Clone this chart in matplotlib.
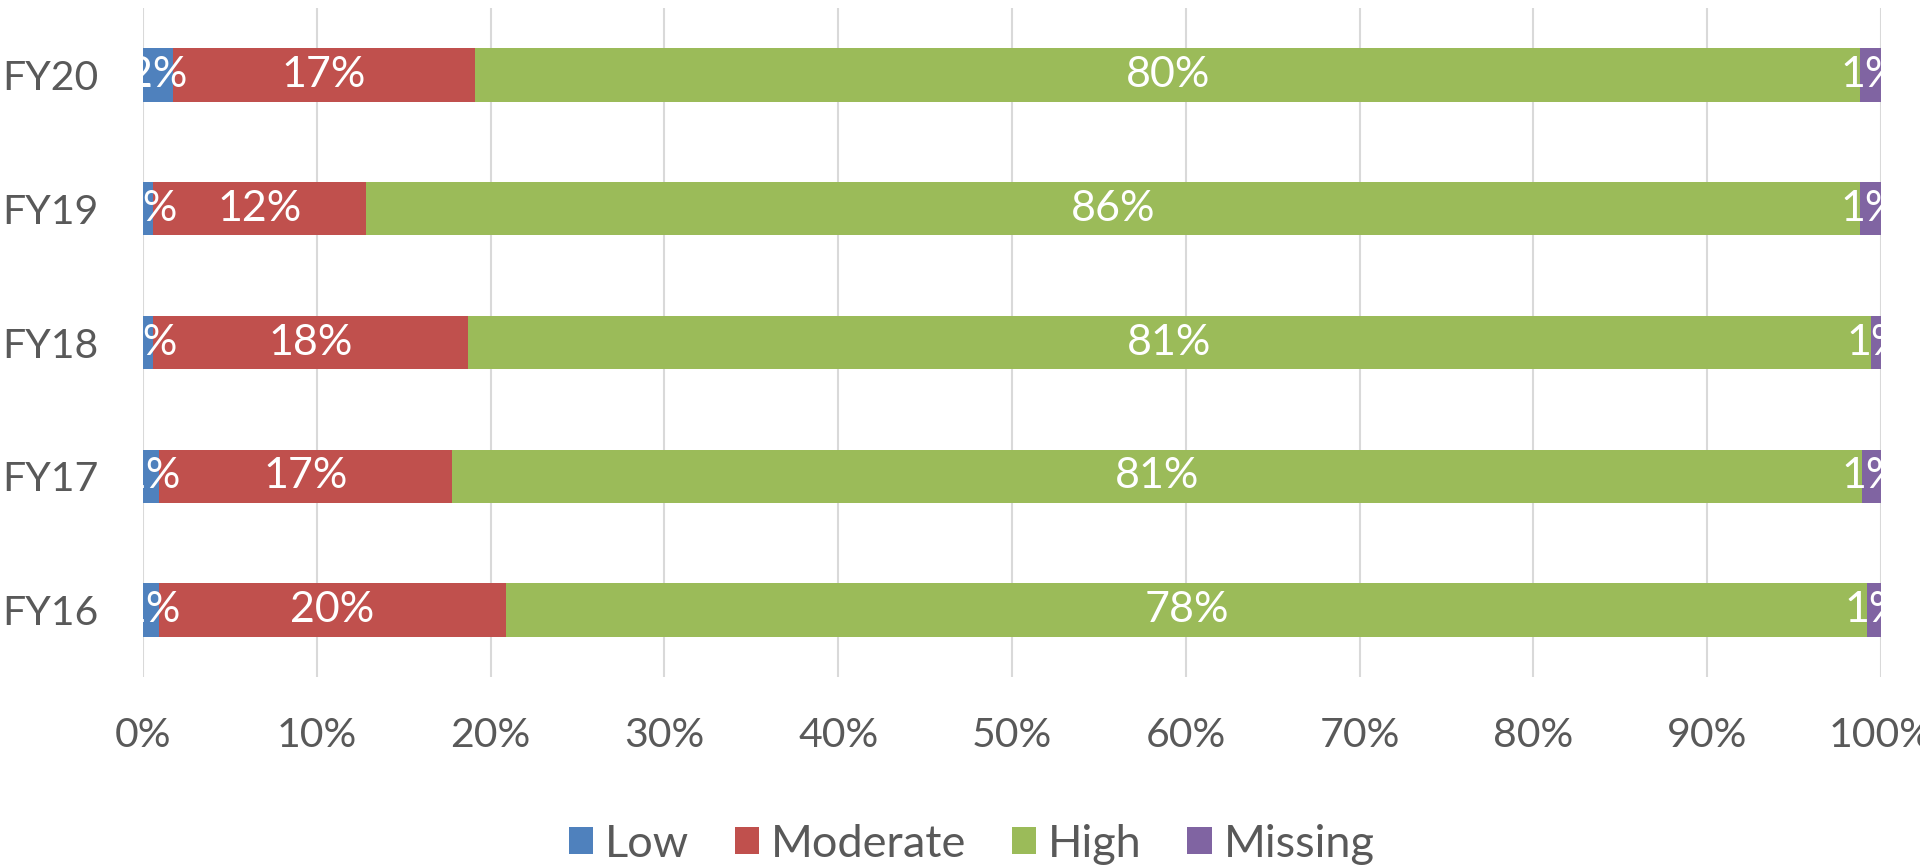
import matplotlib
matplotlib.use("Agg")
import matplotlib.pyplot as plt
from matplotlib.patches import Patch
import numpy as np

# data (percent of total), bottom to top
years = ["FY16", "FY17", "FY18", "FY19", "FY20"]
low = [0.9, 0.9, 0.6, 0.6, 1.7]
moderate = [20.0, 16.9, 18.1, 12.2, 17.4]
high = [78.3, 81.1, 80.7, 86.0, 79.7]
missing = [0.8, 1.1, 0.6, 1.2, 1.2]

series = ["Low", "Moderate", "High", "Missing"]
colors = ["#4F81BD", "#C0504D", "#9BBB59", "#8064A2"]
txt = "#595959"

plt.rcParams['font.family'] = ['Lato', 'DejaVu Sans']
fs_tick = 29.5
fs_lab = 31
fs_leg = 32.5

fig = plt.figure(figsize=(19.2, 8.66), dpi=100)
ax = fig.add_axes([0.0745, 0.2182, 0.9052, 0.7726])

y = np.arange(len(years))
left = np.zeros(len(years))
for name, vals, col in zip(series, [low, moderate, high, missing], colors):
    vals = np.array(vals)
    ax.barh(y, vals, left=left, height=0.4, color=col, edgecolor='none', zorder=3)
    for yi, l, v in zip(y, left, vals):
        ax.text(l + v / 2, yi, f"{round(v):.0f}%", ha='center', va='center',
                color='white', fontsize=fs_lab, zorder=4, clip_on=True)
    left = left + vals

ax.set_xlim(0, 100)
ax.set_ylim(-0.5, len(years) - 0.5)
ax.set_xticks(np.arange(0, 101, 10))
ax.set_xticklabels([f"{t}%" for t in range(0, 101, 10)])
ax.set_yticks(y)
ax.set_yticklabels(years)
ax.tick_params(axis='x', length=0, pad=29, labelsize=fs_tick, labelcolor=txt)
ax.tick_params(axis='y', length=0, pad=32, labelsize=fs_tick, labelcolor=txt)
ax.xaxis.grid(True, color='#D9D9D9', linewidth=1.5, zorder=0)
for s in ax.spines.values():
    s.set_visible(False)

handles = [Patch(facecolor=c, edgecolor='none') for c in colors]
fig.legend(handles, series, loc='center', bbox_to_anchor=(0.506, 0.025), ncol=4,
           frameon=False, fontsize=fs_leg, labelcolor=txt, handlelength=0.55,
           handleheight=0.55, handletextpad=0.26, columnspacing=1.0)

fig.savefig("out.png", dpi=100)
